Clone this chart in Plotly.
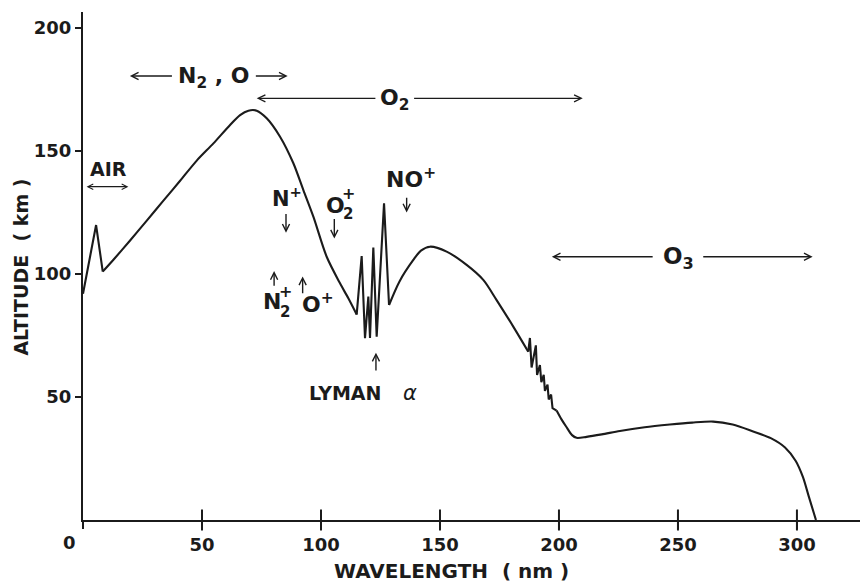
import plotly.graph_objects as go

# ---- data ----
wavelength_nm = [0, 5.5, 8.3, 12.7, 19.7, 26.8, 33.7, 40.8, 47.8, 54.8, 61.8, 66, 69.5, 73,
                 77.2, 82.8, 88.4, 92.6, 96.8, 102.4, 108, 111.5, 115, 117.1, 118.5, 119.9,
                 120.6, 122, 123.4, 126.5, 128.6, 133, 138.8, 142, 145.8, 152.8, 161.2,
                 168.2, 173.8, 180.8, 187.1, 187.8, 188.5, 190.3, 190.8, 192, 192.6, 193.6,
                 194.1, 195.2, 195.7, 196.7, 197.3, 199, 201, 203, 205.5, 207.4, 211.6, 218,
                 225.6, 236, 246.6, 256, 264.8, 273, 281.6, 289, 295, 299.5, 302.5, 305, 308]
altitude_km = [92, 119.9, 101, 105.7, 113.5, 121.7, 129.7, 137.9, 146.1, 153.1, 160.6, 164.6,
               166.4, 166.4, 163.3, 155.8, 145, 134.1, 123.3, 107, 96.2, 90.1, 83.5, 107.3,
               73.9, 90.8, 74, 110.8, 74.5, 128.7, 87.4, 97, 105.7, 109.5, 111.1, 109.1,
               103.7, 97.6, 89.4, 78.6, 68.4, 74, 62, 71, 59, 63, 56, 59, 52.5, 55, 49, 51,
               45.5, 44.5, 41, 38, 34.5, 33.4, 33.8, 34.8, 36.2, 37.7, 38.8, 39.6, 40,
               38.8, 36.0, 33.3, 29.5, 24.0, 17.5, 9.5, 0]

x_tick_values = [0, 50, 100, 150, 200, 250, 300]
x_tick_labels = ["0", "50", "100", "150", "200", "250", "300"]
y_tick_values = [50, 100, 150, 200]
y_tick_labels = ["50", "100", "150", "200"]

x_title = "WAVELENGTH  ( nm )"
y_title = "ALTITUDE  ( km )"

FONT = "DejaVu Sans"
INK = "#1b1b1b"

# smooth stretches of the trace are drawn as splines, the jagged ones as straight lines
segments = [(0, 2, "linear"), (2, 22, "spline"), (22, 30, "linear"), (30, 40, "spline"),
            (40, 53, "linear"), (53, len(wavelength_nm) - 1, "spline")]

fig = go.Figure()
for i0, i1, shape in segments:
    fig.add_trace(go.Scatter(x=wavelength_nm[i0:i1 + 1], y=altitude_km[i0:i1 + 1],
                             mode="lines",
                             line=dict(color=INK, width=2.1, shape=shape, smoothing=0.8),
                             hoverinfo="skip", showlegend=False))

# x ticks cross the axis line in the reference
fig.add_trace(go.Scatter(x=x_tick_values[1:], y=[0] * (len(x_tick_values) - 1),
                         mode="markers", cliponaxis=False, hoverinfo="skip",
                         marker=dict(symbol="line-ns-open", size=15, color=INK,
                                     line=dict(color=INK, width=2)),
                         showlegend=False))

annotations = []


def text(x, y, t, size=20, bold=True, **kw):
    d = dict(x=x, y=y, xref="x", yref="y", text=t, showarrow=False,
             font=dict(family=FONT, size=size, color=INK,
                       weight="bold" if bold else "normal"))
    d.update(kw)
    annotations.append(d)


def arrow(x_head, y_head, x_tail, y_tail, both=False, width=1.4, size=1.0):
    annotations.append(dict(x=x_head, y=y_head, ax=x_tail, ay=y_tail,
                            xref="x", yref="y", axref="x", ayref="y", text="",
                            showarrow=True, arrowhead=5, arrowsize=size,
                            arrowwidth=width, arrowcolor=INK, standoff=0,
                            startstandoff=0,
                            arrowside="end+start" if both else "end",
                            startarrowhead=5, startarrowsize=size))


# N2, O band
text(55.1, 180, "N<sub>2</sub> , O", size=22)
arrow(19.7, 180.5, 38.0, 180.5)
arrow(86, 180.5, 72.0, 180.5)
# O2 band
text(131, 171, "O<sub>2</sub>", size=22)
arrow(73, 171.4, 123.5, 171.4)
arrow(210, 171.4, 138.5, 171.4)
# O3 band
text(250.4, 106.5, "O<sub>3</sub>", size=23)
arrow(197, 107, 240.0, 107)
arrow(306.6, 107, 260.0, 107)
# AIR
text(10.6, 142.6, "AIR", size=19)
arrow(1.5, 135.5, 19.7, 135.5, both=True, width=1.2, size=0.9)
# ion labels
text(85.6, 131.5, "N<sup>+</sup>", size=21)
arrow(85.3, 116.8, 85.3, 125)
text(105.9, 128, "O", size=22)
text(105.9, 128, "+", size=16, xshift=13, yshift=12)
text(105.9, 128, "2", size=15, xshift=13, yshift=-9)
arrow(105.6, 114.4, 105.6, 123)
text(138, 139, "NO<sup>+</sup>", size=22)
arrow(136, 125, 136, 131.6)
text(79.6, 88.7, "N", size=22)
text(79.6, 88.7, "+", size=16, xshift=13, yshift=10)
text(79.6, 88.7, "2", size=15, xshift=13, yshift=-10)
arrow(80.3, 101.2, 80.3, 94.6)
text(98.8, 88.2, "O<sup>+</sup>", size=22)
arrow(92.3, 99, 92.3, 91.6)
text(110.1, 51.5, "LYMAN", size=19)
text(137.4, 51.8, "<i>α</i>", size=21, bold=False)
arrow(123.1, 68, 123.1, 60.2)

# "0" tick label sits left of the origin in the reference
annotations.append(dict(x=x_tick_values[0], y=0, xref="x", yref="y",
                        text=x_tick_labels[0], showarrow=False, xshift=-14, yshift=-22,
                        font=dict(family=FONT, size=18, color=INK, weight="bold")))
# axis titles
annotations.append(dict(x=0.474, y=-0.101, xref="paper", yref="paper", text=x_title,
                        showarrow=False, xanchor="center", yanchor="middle",
                        font=dict(family=FONT, size=20, color=INK, weight="bold")))
annotations.append(dict(x=-0.081, y=0.497, xref="paper", yref="paper", text=y_title,
                        showarrow=False, textangle=-90, xanchor="center", yanchor="middle",
                        font=dict(family=FONT, size=19, color=INK, weight="bold")))

tick_font = dict(family=FONT, size=18, color=INK, weight="bold")
fig.update_layout(
    width=860, height=583,
    margin=dict(l=83, r=0, t=12, b=63),
    paper_bgcolor="white", plot_bgcolor="white",
    showlegend=False,
    xaxis=dict(range=[0, 326.5], showgrid=False, zeroline=False, showline=True,
               linecolor=INK, linewidth=2, ticks="outside", ticklen=7, tickwidth=2,
               tickcolor=INK, tickvals=x_tick_values,
               ticktext=[""] + x_tick_labels[1:], tickfont=tick_font,
               fixedrange=True),
    yaxis=dict(range=[0, 206.5], showgrid=False, zeroline=False, showline=True,
               linecolor=INK, linewidth=2, ticks="outside", ticklen=6, tickwidth=2,
               tickcolor=INK, tickvals=y_tick_values, ticktext=y_tick_labels,
               tickfont=tick_font, fixedrange=True),
    annotations=annotations,
)

fig.write_html("out.html")
